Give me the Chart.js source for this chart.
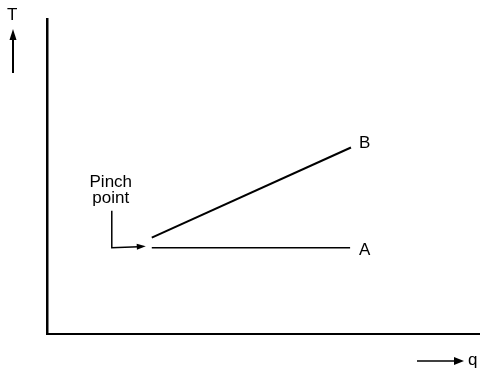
<!DOCTYPE html>
<html>
<head>
<meta charset="utf-8">
<script src="https://cdn.jsdelivr.net/npm/chart.js@4"></script>
<style>
  html, body { margin: 0; padding: 0; background: #fff; }
  #wrap { width: 480px; height: 371px; }
</style>
</head>
<body>
<div id="wrap"><canvas id="pinch-chart"></canvas></div>
<script>
// Stream A (flat) and stream B (rising), in q / T units of the plot
const qA = [24.2, 70];
const tA = [27.4, 27.4];
const qB = [24.2, 70.2];
const tB = [30.6, 59.2];

// Labels shown on the diagram
const streamNames = ['A', 'B'];
const pinchLabel = ['Pinch', 'point'];
const axisNames = ['q', 'T'];

const FONT = '17px "Liberation Sans", Arial, sans-serif';

function toPoints(xs, ys) {
  return xs.map((x, i) => ({ x: x, y: ys[i] }));
}

function arrowHead(ctx, x, y, dir, len, half) {
  // dir: angle in radians the arrow points to
  ctx.save();
  ctx.translate(x, y);
  ctx.rotate(dir);
  ctx.beginPath();
  ctx.moveTo(0, 0);
  ctx.lineTo(-len, -half);
  ctx.lineTo(-len, half);
  ctx.closePath();
  ctx.fill();
  ctx.restore();
}

// draws the text labels and arrows around the plot
const annotations = {
  id: 'annotations',
  afterDraw(chart) {
    const ctx = chart.ctx;
    const xs = chart.scales.x, ys = chart.scales.y;
    const area = chart.chartArea;
    ctx.save();
    ctx.fillStyle = '#000';
    ctx.strokeStyle = '#000';
    ctx.font = FONT;
    ctx.textBaseline = 'alphabetic';

    // stream labels at the end of each line
    const aEnd = { x: xs.getPixelForValue(qA[1]), y: ys.getPixelForValue(tA[1]) };
    const bEnd = { x: xs.getPixelForValue(qB[1]), y: ys.getPixelForValue(tB[1]) };
    ctx.textAlign = 'left';
    ctx.fillText(streamNames[0], aEnd.x + 9, aEnd.y + 7);
    ctx.fillText(streamNames[1], bEnd.x + 8, bEnd.y);

    // pinch point callout
    const p = { x: xs.getPixelForValue(qA[0]), y: ys.getPixelForValue(tA[0]) };
    ctx.textAlign = 'center';
    ctx.fillText(pinchLabel[0], p.x - 41, p.y - 61);
    ctx.fillText(pinchLabel[1], p.x - 41, p.y - 45);
    ctx.lineWidth = 1.5;
    ctx.beginPath();
    ctx.moveTo(p.x - 40, p.y - 37);
    ctx.lineTo(p.x - 40, p.y);
    ctx.lineTo(p.x - 13, p.y - 1);
    ctx.stroke();
    arrowHead(ctx, p.x - 6, p.y - 1.5, -0.05, 9, 3);

    // T axis arrow (left of the y axis)
    ctx.textAlign = 'left';
    ctx.fillText(axisNames[1], 7, 20);
    ctx.lineWidth = 2;
    ctx.beginPath();
    ctx.moveTo(13, 73);
    ctx.lineTo(13, 36);
    ctx.stroke();
    arrowHead(ctx, 13, 29, -Math.PI / 2, 11, 3.5);

    // q axis arrow (below the x axis)
    const qy = area.bottom + 27;
    ctx.lineWidth = 1.5;
    ctx.beginPath();
    ctx.moveTo(417, qy);
    ctx.lineTo(456, qy);
    ctx.stroke();
    arrowHead(ctx, 464, qy, 0, 10, 4);
    ctx.fillText(axisNames[0], 468, qy + 4);
    ctx.restore();
  }
};

const chartCanvas = document.querySelector('#pinch-chart');

new Chart(chartCanvas, {
  type: 'scatter',
  data: {
    datasets: [
      {
        label: streamNames[0],
        data: toPoints(qA, tA),
        showLine: true,
        borderColor: '#000',
        borderWidth: 1.6,
        pointRadius: 0
      },
      {
        label: streamNames[1],
        data: toPoints(qB, tB),
        showLine: true,
        borderColor: '#000',
        borderWidth: 2,
        pointRadius: 0
      }
    ]
  },
  options: {
    responsive: true,
    maintainAspectRatio: false,
    animation: false,
    layout: {
      padding: { left: 47, top: 19, right: 0, bottom: 37 }
    },
    plugins: {
      legend: { display: false },
      tooltip: { enabled: false }
    },
    scales: {
      x: {
        type: 'linear',
        min: 0,
        max: 100,
        grid: { display: false, drawTicks: false },
        ticks: { display: false },
        border: { display: true, color: '#000', width: 2 }
      },
      y: {
        type: 'linear',
        min: 0,
        max: 100,
        grid: { display: false, drawTicks: false },
        ticks: { display: false },
        border: { display: true, color: '#000', width: 2.5 }
      }
    }
  },
  plugins: [annotations]
});
</script>
</body>
</html>
